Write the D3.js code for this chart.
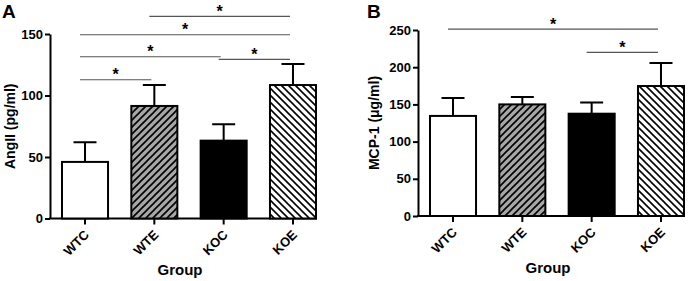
<!DOCTYPE html>
<html>
<head>
<meta charset="utf-8">
<script src="https://cdn.jsdelivr.net/npm/d3@7"></script>
<style>
  body { margin: 0; background: #fff; }
  text { font-family: "Liberation Sans", Arial, sans-serif; font-weight: bold; }
</style>
</head>
<body>
<div id="container"></div>
<script>
// data
var groups = ["WTC", "WTE", "KOC", "KOE"];
var angMean = [46, 91.5, 63.3, 108.5];
var angErr = [16, 17, 13.3, 17.1];
var angTicks = [0, 50, 100, 150];
var angSig = [["WTC", "WTE", 112.8], ["WTC", "KOC", 131.5], ["KOC", "KOE", 129.4], ["WTC", "KOE", 149.4], ["WTE", "KOE", 164.4]];
var mcpMean = [134.5, 150, 137.5, 174.7];
var mcpErr = [24, 10, 15, 31];
var mcpTicks = [0, 50, 100, 150, 200, 250];
var mcpSig = [["WTC", "KOE", 251.3], ["KOC", "KOE", 220]];

var fills = ["#fff", "url(#hatchFwd)", "#000", "url(#hatchBack)"];

var svg = d3.select("#container").append("svg")
    .attr("width", 699)
    .attr("height", 281);

var defs = svg.append("defs");
var p1 = defs.append("pattern")
    .attr("id", "hatchFwd")
    .attr("patternUnits", "userSpaceOnUse")
    .attr("width", 7).attr("height", 7);
p1.append("rect").attr("width", 7).attr("height", 7).attr("fill", "#a6a6a6");
p1.append("path")
    .attr("d", "M-1,1 l2,-2 M0,7 l7,-7 M6,8 l2,-2")
    .attr("stroke", "#000").attr("stroke-width", 1.6);
var p2 = defs.append("pattern")
    .attr("id", "hatchBack")
    .attr("patternUnits", "userSpaceOnUse")
    .attr("width", 7).attr("height", 7);
p2.append("rect").attr("width", 7).attr("height", 7).attr("fill", "#fff");
p2.append("path")
    .attr("d", "M-1,6 l2,2 M0,0 l7,7 M6,-1 l2,2")
    .attr("stroke", "#000").attr("stroke-width", 1.6);

function drawPanel(opt) {
    var g = svg.append("g");
    var axisX = opt.left, axisY = opt.bottom;

    var x = d3.scaleBand()
        .domain(groups)
        .range([axisX + 12, axisX + 266])
        .paddingInner(0.336)
        .paddingOuter(0);

    var y = d3.scaleLinear()
        .domain([0, d3.max(opt.ticks)])
        .range([axisY, opt.top]);

    // y axis
    var yAxis = d3.axisLeft(y)
        .tickValues(opt.ticks)
        .tickSize(5)
        .tickPadding(2)
        .tickSizeOuter(0);
    var gy = g.append("g")
        .attr("transform", "translate(" + axisX + ",0)")
        .call(yAxis);
    gy.select(".domain").attr("stroke-width", 2);
    gy.selectAll(".tick line").attr("stroke-width", 2);
    gy.selectAll(".tick text")
        .attr("font-size", 13)
        .attr("font-weight", "bold")
        .attr("font-family", "Liberation Sans, Arial, sans-serif")
        .attr("fill", "#000");

    // x axis
    var xAxis = d3.axisBottom(x)
        .tickSize(6)
        .tickSizeOuter(0)
        .tickFormat("");
    var gx = g.append("g")
        .attr("transform", "translate(0," + axisY + ")")
        .call(xAxis);
    gx.select(".domain").attr("d", "M" + (axisX - 1) + ",0H" + (axisX + 267)).attr("stroke-width", 2);
    gx.selectAll(".tick line").attr("stroke-width", 2);

    g.selectAll(".xlab")
        .data(groups)
        .enter().append("text")
        .attr("class", "xlab")
        .attr("transform", function(d) {
            return "translate(" + (x(d) + x.bandwidth() / 2 + 5) + "," + (axisY + 17) + ") rotate(-45)";
        })
        .attr("text-anchor", "end")
        .attr("font-size", 13)
        .text(function(d) { return d; });

    // bars
    var bars = groups.map(function(d, i) { return {g: d, v: opt.mean[i], e: opt.err[i], fill: fills[i]}; });

    g.selectAll(".err")
        .data(bars)
        .enter().append("path")
        .attr("class", "err")
        .attr("fill", "none")
        .attr("stroke", "#000")
        .attr("stroke-width", 2)
        .attr("d", function(d) {
            var cx = x(d.g) + x.bandwidth() / 2;
            return "M" + cx + "," + y(d.v) + "V" + y(d.v + d.e) +
                "M" + (cx - 11.5) + "," + y(d.v + d.e) + "H" + (cx + 11.5);
        });

    g.selectAll(".bar")
        .data(bars)
        .enter().append("rect")
        .attr("class", "bar")
        .attr("x", function(d) { return x(d.g); })
        .attr("y", function(d) { return y(d.v); })
        .attr("width", x.bandwidth())
        .attr("height", function(d) { return axisY - y(d.v); })
        .attr("fill", function(d) { return d.fill; })
        .attr("stroke", "#000")
        .attr("stroke-width", 2);

    // significance lines
    opt.sig.forEach(function(s) {
        var x1 = x(s[0]) + x.bandwidth() / 2 - 5,
            x2 = x(s[1]) + x.bandwidth() / 2 - 3,
            yy = y(s[2]);
        g.append("line")
            .attr("x1", x1).attr("x2", x2)
            .attr("y1", yy).attr("y2", yy)
            .attr("stroke", "#555")
            .attr("stroke-width", 1.2);
        g.append("text")
            .attr("x", (x1 + x2) / 2)
            .attr("y", yy + 0.5)
            .attr("text-anchor", "middle")
            .attr("font-size", 16)
            .text("*");
    });

    // titles
    g.append("text")
        .attr("transform", "translate(" + opt.ylabX + "," + ((opt.top + axisY) / 2) + ") rotate(-90)")
        .attr("text-anchor", "middle")
        .attr("font-size", 14)
        .text(opt.ylabel);

    g.append("text")
        .attr("x", axisX + 130)
        .attr("y", opt.groupY)
        .attr("text-anchor", "middle")
        .attr("font-size", 15)
        .text("Group");

    g.append("text")
        .attr("x", opt.letterX)
        .attr("y", 18)
        .attr("font-size", 19)
        .text(opt.letter);
}

drawPanel({left: 50, top: 34, bottom: 218.5, mean: angMean, err: angErr, ticks: angTicks, sig: angSig,
    ylabel: "AngII (pg/ml)", ylabX: 15, groupY: 275, letter: "A", letterX: 2});
drawPanel({left: 418, top: 30, bottom: 216, mean: mcpMean, err: mcpErr, ticks: mcpTicks, sig: mcpSig,
    ylabel: "MCP-1 (μg/ml)", ylabX: 379, groupY: 273, letter: "B", letterX: 367});
</script>
</body>
</html>
